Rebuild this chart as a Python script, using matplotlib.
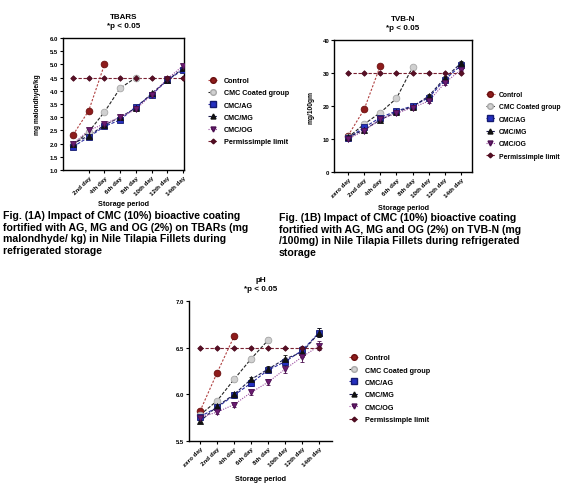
import matplotlib
matplotlib.use("Agg")
import matplotlib.pyplot as plt
from matplotlib.lines import Line2D
import numpy as np

plt.rcParams['font.family'] = ['Liberation Sans', 'DejaVu Sans']
plt.rcParams['font.weight'] = 'bold'

days = ["zero day", "2nd day", "4th day", "6th day", "8th day", "10th day", "12th day", "14th day"]
series_names = ["Control", "CMC Coated group", "CMC/AG", "CMC/MG", "CMC/OG", "Permissimple limit"]

# TBARS
tb_control = [2.33, 3.25, 5.0]
tb_cmc = [1.95, 2.45, 3.2, 4.1, 4.5]
tb_ag = [1.88, 2.25, 2.65, 2.9, 3.4, 3.85, 4.4, 4.8]
tb_mg = [2.0, 2.3, 2.7, 3.0, 3.35, 3.9, 4.4, 4.85]
tb_og = [2.0, 2.5, 2.75, 3.0, 3.3, 3.85, 4.45, 4.95]
tb_limit = [4.5] * 8

# TVB-N
tv_control = [11.0, 19.0, 32.2]
tv_cmc = [10.5, 14.5, 18.0, 22.3, 31.8]
tv_ag = [10.3, 13.5, 16.5, 18.5, 20.0, 22.5, 28.0, 32.3]
tv_mg = [10.5, 12.8, 15.8, 18.2, 19.8, 23.0, 28.5, 33.0]
tv_og = [10.0, 12.5, 16.0, 17.8, 19.5, 21.5, 27.0, 31.0]
tv_limit = [30.0] * 8

# pH
ph_control = [5.82, 6.23, 6.62]
ph_cmc = [5.78, 5.93, 6.16, 6.38, 6.58]
ph_ag = [5.76, 5.86, 5.99, 6.12, 6.26, 6.35, 6.47, 6.66]
ph_mg = [5.71, 5.87, 6.00, 6.16, 6.27, 6.38, 6.45, 6.66]
ph_og = [5.75, 5.81, 5.89, 6.02, 6.13, 6.27, 6.40, 6.52]
ph_limit = [6.5] * 8
ph_err = [0.02, 0.02, 0.03, 0.03, 0.03, 0.04, 0.05, 0.05]

styles = [
    dict(marker='o', mfc='#8e1c1c', mec='#6a0f0f', ls=(0, (2, 1.5)), lc='#b04040', ms=4.8),
    dict(marker='o', mfc='#d0d0d0', mec='#a8a8a8', ls=(0, (3, 1.5)), lc='#222222', ms=4.8),
    dict(marker='s', mfc='#2530c0', mec='#141a70', ls=(0, (3, 1.5)), lc='#2a2aa0', ms=4.5),
    dict(marker='^', mfc='#111111', mec='#111111', ls=(0, (3, 1.5)), lc='#1a1a50', ms=4.2),
    dict(marker='v', mfc='#6a1b70', mec='#4a0f50', ls=(0, (1, 1.2)), lc='#9a4aa0', ms=4.2),
    dict(marker='D', mfc='#5a0f25', mec='#4a0a1e', ls=(0, (3, 1.5)), lc='#7a2030', ms=2.8),
]

W, H = 567, 485
fig = plt.figure(figsize=(W / 100, H / 100), dpi=100)


def add_ax(l, t, r, b):
    return fig.add_axes([l / W, 1 - b / H, (r - l) / W, (b - t) / H])


def draw(ax, data, errs, ylim, yticks, yfmt, xlim, first_label, box, title, ylabel,
         leg_pos, xlabel_y, labelspacing, leg_size=5.2, textpad=0.9):
    for i, (vals, st) in enumerate(zip(data, styles)):
        x = np.arange(len(vals))
        ax.plot(x, vals, ls=st['ls'], color=st['lc'], lw=0.8, zorder=2)
        ax.errorbar(x, vals, yerr=errs[i] if errs is not None else None,
                    fmt=st['marker'], ms=st['ms'], mfc=st['mfc'], mec=st['mec'],
                    ecolor=st['mec'], elinewidth=0.6, capsize=1.5, mew=0.6,
                    ls='none', zorder=3 + (1 if i == 5 else 0))
    ax.set_xlim(*xlim)
    ax.set_ylim(*ylim)
    ax.set_yticks(yticks)
    ax.set_yticklabels([yfmt.format(v) for v in yticks], fontsize=4.3, fontweight='bold')
    start = 0 if first_label else 1
    ax.set_xticks(range(start, 8))
    ax.set_xticklabels(days[start:], rotation=45, ha='right', rotation_mode='anchor',
                       fontsize=4.5, fontweight='bold')
    ax.tick_params(axis='both', length=2, width=0.8, pad=1.5)
    for s in ax.spines.values():
        s.set_linewidth(1.0)
    if not box:
        ax.spines['top'].set_visible(False)
        ax.spines['right'].set_visible(False)
    ax.set_title(title, fontsize=5.8, fontweight='bold', pad=8, linespacing=1.3)
    if ylabel:
        ax.set_ylabel(ylabel, fontsize=4.8, fontweight='bold', labelpad=6)
    bb = ax.get_position()
    fig.text((bb.x0 + bb.x1) / 2, 1 - xlabel_y / H, "Storage period", ha='center',
             va='center', fontsize=5.2, fontweight='bold')
    lh = []
    for st in styles:
        lh.append(Line2D([0], [0], marker=st['marker'], ls=st['ls'], color=st['lc'], lw=0.8,
                         ms=st['ms'] * 0.85, mfc=st['mfc'], mec=st['mec']))
    fig.legend(lh, series_names, loc='upper left',
               bbox_to_anchor=(leg_pos[0] / W, 1 - leg_pos[1] / H), frameon=False,
               handlelength=1.3, handletextpad=textpad, labelspacing=labelspacing,
               borderpad=0, borderaxespad=0, prop=dict(size=leg_size, weight='bold'))


ax1 = add_ax(63, 39, 184, 171)
draw(ax1, [tb_control, tb_cmc, tb_ag, tb_mg, tb_og, tb_limit],
     [[0.03] * 3, [0.04] * 5, [0.06] * 8, [0.05] * 8, [0.05] * 8, None],
     (1.0, 6.0), np.arange(1.0, 6.01, 0.5), "{:.1f}", (-0.64, 7.06), False, True,
     "TBARS\n*p < 0.05", "mg malondhyde/kg", (208, 78), 205, 0.72)

ax2 = add_ax(334, 41, 472, 173)
draw(ax2, [tv_control, tv_cmc, tv_ag, tv_mg, tv_og, tv_limit],
     [[0.4] * 3, [0.4] * 5, [0.5] * 8, [0.5] * 8, [0.5] * 8, None],
     (0, 40), [0, 10, 20, 30, 40], "{:d}", (-0.87, 7.68), True, True,
     "TVB-N\n*p < 0.05", "mg/100gm", (486, 92), 208, 0.78, 4.9, 0.6)

ax3 = add_ax(189, 302, 332, 442)
draw(ax3, [ph_control, ph_cmc, ph_ag, ph_mg, ph_og, ph_limit],
     [ph_err[:3], ph_err[:5], ph_err, ph_err, ph_err, None],
     (5.5, 7.0), [5.5, 6.0, 6.5, 7.0], "{:.1f}", (-0.65, 7.76), True, False,
     "pH\n*p < 0.05", None, (349, 355), 480, 0.75)

cap_a = ("Fig. (1A) Impact of CMC (10%) bioactive coating\n"
         "fortified with AG, MG and OG (2%) on TBARs (mg\n"
         "malondhyde/ kg) in Nile Tilapia Fillets during\n"
         "refrigerated storage")
cap_b = ("Fig. (1B) Impact of CMC (10%) bioactive coating\n"
         "fortified with AG, MG and OG (2%) on TVB-N (mg\n"
         "/100mg) in Nile Tilapia Fillets during refrigerated\n"
         "storage")
fig.text(3 / W, 1 - 211 / H, cap_a, ha='left', va='top', fontsize=7.6, fontweight='bold',
         linespacing=1.2)
fig.text(279 / W, 1 - 213 / H, cap_b, ha='left', va='top', fontsize=7.6, fontweight='bold',
         linespacing=1.2)

fig.savefig("out.png", dpi=100)
